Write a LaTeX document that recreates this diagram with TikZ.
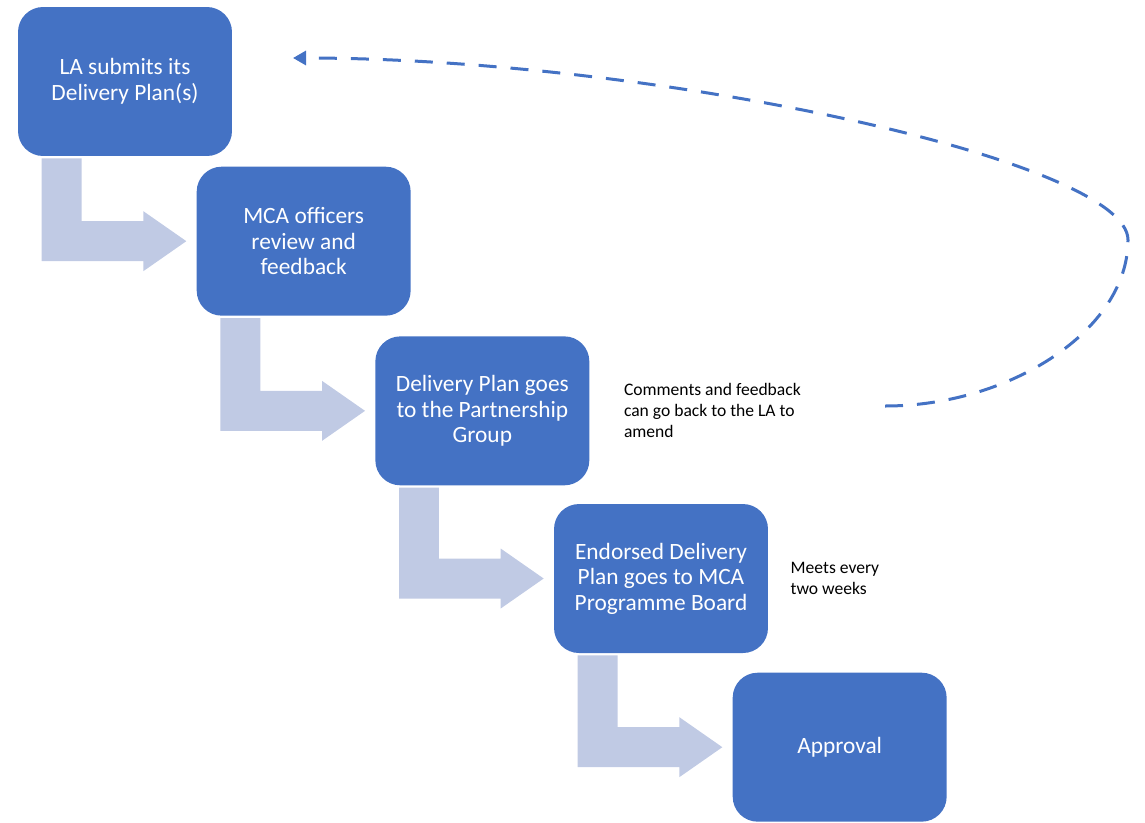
\documentclass[tikz,border=0pt]{standalone}
\usepackage{fontspec}
\setmainfont{Carlito}
\usetikzlibrary{arrows.meta,positioning,calc}

\definecolor{boxblue}{HTML}{4472C4}
\definecolor{bendgrey}{RGB}{192,202,228}

\begin{document}
\begin{tikzpicture}[x=0.02cm,y=-0.02cm,>={Triangle[length=0.26cm,width=0.28cm]},
    stepbox/.style={fill=boxblue,rounded corners=0.5cm,minimum width=4.28cm,minimum height=2.98cm,
      text=white,align=center,font=\fontsize{13.3}{14.5}\selectfont},
    bendarrow/.style={fill=bendgrey},
    note/.style={align=left,inner sep=0pt,font=\fontsize{10}{11.9}\selectfont},
    feedback/.style={draw=boxblue,line width=0.06cm,dash pattern=on 0.36cm off 0.28cm,->}]
    \useasboundingbox (0,0) rectangle (1145,822);

    \node[stepbox]     (la)    at (125,81.5)                             {LA submits its\\Delivery Plan(s)};
    \node[stepbox]     (mca)   [below right=0.2cm and -0.72cm of la]     {MCA officers\\review and\\feedback};
    \node[stepbox]     (pg)    [below right=0.4cm and -0.72cm of mca]    {Delivery Plan goes\\to the Partnership\\Group};
    \node[stepbox]     (board) [below right=0.36cm and -0.72cm of pg]    {Endorsed Delivery\\Plan goes to MCA\\Programme Board};
    \node[stepbox]     (ok)    [below right=0.38cm and -0.72cm of board] {Approval};
    \node[note]        (back)  [right=0.68cm of pg]    {Comments and feedback\\can go back to the LA to\\amend};
    \node[note]        (meets) [right=0.44cm of board] {Meets every\\two weeks};

    % bent arrows between the steps
    \foreach \from/\to in {la/mca,mca/pg,pg/board,board/ok}
      \fill[bendarrow] ($(\from.south west)+(0.48cm,-0.04cm)$) coordinate (s)
        -- ++(0.8cm,0cm) |- ($(\to.west)+(-1.06cm,0.4cm)$)
        -- ++(0cm,0.2cm) -- ($(\to.west)+(-0.2cm,0cm)$)
        -- ++(-0.86cm,-0.6cm) -- ++(0cm,0.2cm) -| (s) -- cycle;

    % loop back to the LA
    \coordinate (fbStart) at (885,406);
    \coordinate (fbEnd)   at (293,58);
    \draw[feedback] (fbStart) .. controls (1010,406) and (1128,330) .. (1128,240)
      .. controls (1128,160) and (650,58) .. (fbEnd);
\end{tikzpicture}
\end{document}
